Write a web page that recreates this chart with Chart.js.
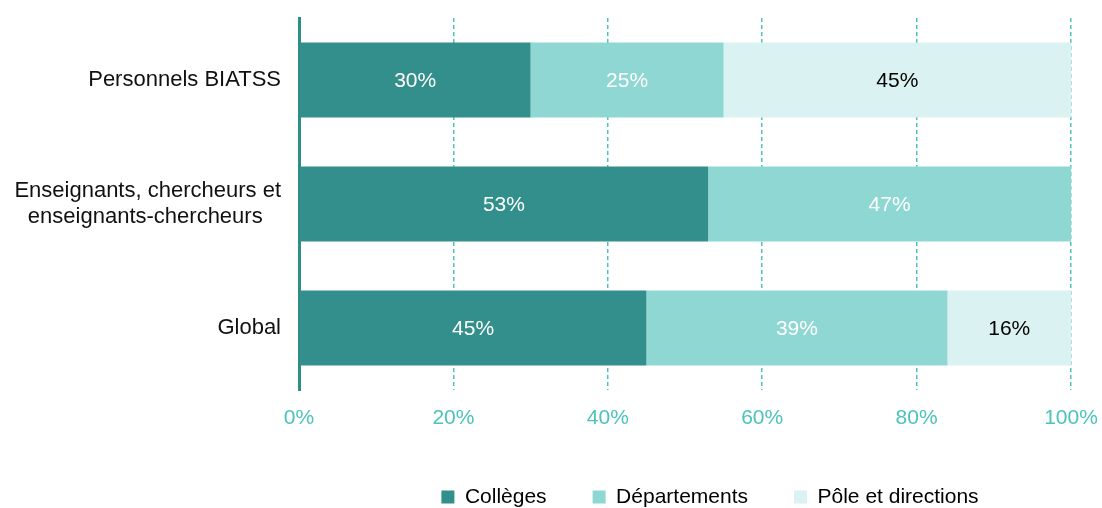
<!DOCTYPE html>
<html lang="fr">
<head>
<meta charset="utf-8">
<script src="https://cdn.jsdelivr.net/npm/chart.js@4/dist/chart.umd.min.js"></script>
<style>
  html, body { margin: 0; padding: 0; background: #fff; }
  #wrap { width: 1102px; height: 508px; }
</style>
</head>
<body>
<div id="wrap"><canvas id="repartitionChart" width="1102" height="508"></canvas></div>
<script>
const categories = [
  "Personnels BIATSS",
  ["Enseignants, chercheurs et", "enseignants-chercheurs   "],
  "Global"
];
const colleges = [30, 53, 45];
const departements = [25, 47, 39];
const poleDirections = [45, 0, 16];
const xTicks = [0, 20, 40, 60, 80, 100];

const FONT = "'Liberation Sans', Arial, sans-serif";
const TEAL_TEXT = "#4cc3bb";
const LEGEND_CENTER = 710;

// écrit la valeur au centre de chaque segment
const segmentLabels = {
  id: "segmentLabels",
  afterDatasetsDraw(chart) {
    const ctx = chart.ctx;
    ctx.save();
    ctx.font = `21px ${FONT}`;
    ctx.textAlign = "center";
    ctx.textBaseline = "middle";
    chart.data.datasets.forEach((ds, i) => {
      const meta = chart.getDatasetMeta(i);
      meta.data.forEach((bar, j) => {
        const value = ds.data[j];
        if (!value) return;
        const pos = bar.getCenterPoint();
        ctx.fillStyle = ds.labelColor;
        ctx.fillText(value + "%", pos.x, pos.y + 1);
      });
    });
    ctx.restore();
  }
};

// décale la légende vers la droite, sous la zone des barres
const legendShift = {
  id: "legendShift",
  afterLayout(chart) {
    const legend = chart.legend;
    if (!legend) return;
    const offset = LEGEND_CENTER - (legend.left + legend.right) / 2;
    legend.left += offset;
    legend.right += offset;
  }
};

new Chart(document.getElementById("repartitionChart").getContext("2d"), {
  type: "bar",
  data: {
    labels: categories,
    datasets: [
      { label: "Collèges", data: colleges, backgroundColor: "#338f8b", labelColor: "#ffffff" },
      { label: "Départements", data: departements, backgroundColor: "#8fd7d3", labelColor: "#ffffff" },
      { label: "Pôle et directions", data: poleDirections, backgroundColor: "#daf2f2", labelColor: "#000000" }
    ]
  },
  options: {
    indexAxis: "y",
    responsive: false,
    animation: false,
    barPercentage: 0.605,
    categoryPercentage: 1,
    layout: { padding: { top: 18, right: 31, left: 0, bottom: -9.5 } },
    plugins: {
      tooltip: { enabled: false },
      legend: {
        position: "bottom",
        labels: {
          boxWidth: 13,
          boxHeight: 13,
          padding: 46,
          color: "#000",
          font: { family: FONT, size: 21 }
        }
      }
    },
    scales: {
      x: {
        stacked: true,
        min: 0,
        max: 100,
        afterBuildTicks(scale) {
          scale.ticks = xTicks.map(v => ({ value: v }));
        },
        afterFit(scale) {
          scale.height = 50.5;
          scale.paddingLeft = 0;
          scale.paddingRight = 0;
        },
        grid: {
          color: "#4cc3bb",
          lineWidth: 1.5,
          drawTicks: false
        },
        border: { display: false, dash: [4, 3] },
        ticks: {
          padding: 16,
          color: TEAL_TEXT,
          font: { family: FONT, size: 21 },
          callback: value => value + "%"
        }
      },
      y: {
        stacked: true,
        afterFit(scale) {
          scale.width = 299;
          scale.paddingTop = 0;
          scale.paddingBottom = 0;
        },
        grid: { display: false, drawTicks: false },
        border: { display: true, color: "#2f8d88", width: 3 },
        ticks: {
          padding: 18,
          color: "#111",
          font: { family: FONT, size: 22, lineHeight: 1.15 }
        }
      }
    }
  },
  plugins: [segmentLabels, legendShift]
});
</script>
</body>
</html>
